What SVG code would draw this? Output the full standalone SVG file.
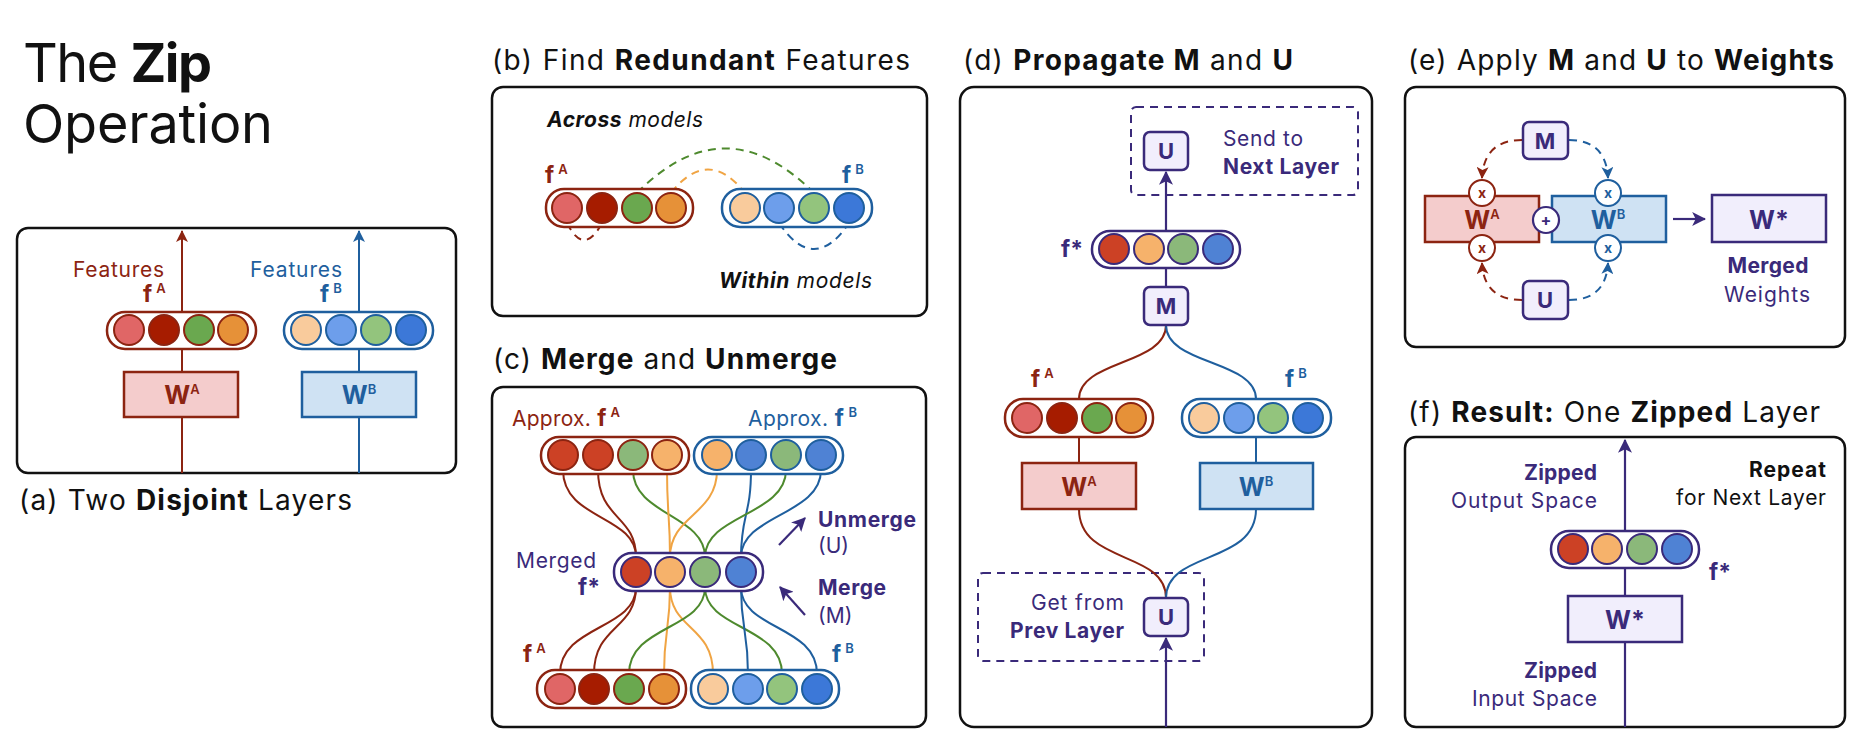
<svg xmlns="http://www.w3.org/2000/svg" width="1869" height="747" viewBox="0 0 1869 747">
<defs>
<style>
text{font-family:Inter,"Liberation Sans",sans-serif;}
.ttl{font-size:54px;fill:#111;}
.pt{font-size:28px;fill:#111;}
.b{font-weight:700;}
.lbl{font-size:21px;}
.red{fill:#8c2411;}
.blu{fill:#1f5f9e;}
.pur{fill:#3a2a7a;}
.blk{fill:#111;}
.f{font-size:23px;font-weight:700;}
.sup{font-size:13px;font-weight:600;}
.wt{font-size:25px;font-weight:700;}
.panel{fill:#fff;stroke:#111;stroke-width:2.5;}
.pA{fill:#fff;stroke:#8c2411;stroke-width:2.5;}
.pB{fill:#fff;stroke:#1f5f9e;stroke-width:2.5;}
.pM{fill:#fff;stroke:#3a2a7a;stroke-width:2.5;}
.cA{stroke:#8c2411;stroke-width:2;}
.cB{stroke:#1f5f9e;stroke-width:2;}
.cM{stroke:#3a2a7a;stroke-width:2;}
.wA{fill:#f4cccc;stroke:#8c2411;stroke-width:2.5;}
.wB{fill:#cfe2f3;stroke:#1f5f9e;stroke-width:2.5;}
.wS{fill:#f1eefc;stroke:#3a2a7a;stroke-width:2.5;}
.op{fill:#f1eefc;stroke:#3a2a7a;stroke-width:2.5;}
.dbox{fill:none;stroke:#3a2a7a;stroke-width:2;stroke-dasharray:8 6;}
.lr{fill:none;stroke:#8c2411;stroke-width:2;}
.lb{fill:none;stroke:#1f5f9e;stroke-width:2;}
.lp{fill:none;stroke:#3a2a7a;stroke-width:2.2;}
.lg{fill:none;stroke:#4e8a2e;stroke-width:2;}
.lo{fill:none;stroke:#f0a443;stroke-width:2;}
.dash{stroke-dasharray:8 6;}
</style>
<marker id="arR" viewBox="0 0 12 12" refX="11" refY="6" markerWidth="12" markerHeight="12" markerUnits="userSpaceOnUse" orient="auto"><path d="M0,0 L12,6 L0,12 L3,6 Z" fill="#8c2411"/></marker>
<marker id="arB" viewBox="0 0 12 12" refX="11" refY="6" markerWidth="12" markerHeight="12" markerUnits="userSpaceOnUse" orient="auto"><path d="M0,0 L12,6 L0,12 L3,6 Z" fill="#1f5f9e"/></marker>
<marker id="arP" viewBox="0 0 12 12" refX="11" refY="6" markerWidth="14" markerHeight="14" markerUnits="userSpaceOnUse" orient="auto"><path d="M0,0 L12,6 L0,12 L3,6 Z" fill="#3a2a7a"/></marker>
</defs>
<rect width="1869" height="747" fill="#fff"/>

<!-- Title -->
<g id="title">
<text class="ttl" x="23" y="82" textLength="189" lengthAdjust="spacing">The <tspan class="b">Zip</tspan></text>
<text class="ttl" x="23" y="143" textLength="250" lengthAdjust="spacing">Operation</text>
</g>

<!-- Panel a -->
<g id="panel-a">
<rect class="panel" x="17" y="228" width="439" height="245" rx="11"/>
<text class="pt" x="19" y="510" textLength="333" lengthAdjust="spacing">(a) Two <tspan class="b">Disjoint</tspan> Layers</text>
</g>
<g id="a-connectors">
<line class="lr" x1="182" y1="473" x2="182" y2="231" marker-end="url(#arR)"/>
<line class="lb" x1="359" y1="473" x2="359" y2="231" marker-end="url(#arB)"/>
</g>
<g id="a-featA">
<text class="lbl red" x="164" y="277" text-anchor="end" textLength="91" lengthAdjust="spacing">Features</text>
<text class="f red" x="143" y="302">f<tspan class="sup" dx="4" dy="-9">A</tspan></text>
<rect class="pA" x="107" y="312" width="149" height="37" rx="18"/>
<circle class="cA" cx="129" cy="330" r="15" fill="#e06666"/>
<circle class="cA" cx="164" cy="330" r="15" fill="#a61c00"/>
<circle class="cA" cx="199" cy="330" r="15" fill="#6aa84f"/>
<circle class="cA" cx="233" cy="330" r="15" fill="#e69138"/>
</g>
<g id="a-featB">
<text class="lbl blu" x="342" y="277" text-anchor="end" textLength="92" lengthAdjust="spacing">Features</text>
<text class="f blu" x="320" y="302">f<tspan class="sup" dx="4" dy="-9">B</tspan></text>
<rect class="pB" x="284" y="312" width="149" height="37" rx="18"/>
<circle class="cB" cx="306" cy="330" r="15" fill="#f9cb9c"/>
<circle class="cB" cx="341" cy="330" r="15" fill="#6d9eeb"/>
<circle class="cB" cx="376" cy="330" r="15" fill="#93c47d"/>
<circle class="cB" cx="411" cy="330" r="15" fill="#3c78d8"/>
</g>
<g id="a-WA"><rect class="wA" x="124" y="372" width="114" height="45"/><text class="wt red" x="182" y="404" text-anchor="middle">W<tspan class="sup" dy="-10">A</tspan></text></g>
<g id="a-WB"><rect class="wB" x="302" y="372" width="114" height="45"/><text class="wt blu" x="359" y="404" text-anchor="middle">W<tspan class="sup" dy="-10">B</tspan></text></g>

<!-- Panel b -->
<g id="panel-b">
<text class="pt" x="492" y="70" textLength="418" lengthAdjust="spacing">(b) Find <tspan class="b">Redundant</tspan> Features</text>
<rect class="panel" x="492" y="87" width="435" height="229" rx="11"/>
<text class="lbl blk" x="547" y="127" font-style="italic" textLength="156" lengthAdjust="spacing"><tspan class="b">Across</tspan> models</text>
<text class="lbl blk" x="719" y="288" font-style="italic" textLength="153" lengthAdjust="spacing"><tspan class="b">Within</tspan> models</text>
</g>
<g id="b-connectors">
<path class="lg dash" d="M637,193 Q725,104 814,193" stroke="#3d6a22"/>
<path class="lo dash" d="M671,193 Q708,146 745,193"/>
<path class="lr dash" d="M567,223 Q584,257 602,223"/>
<path class="lb dash" d="M779,223 Q814,275 849,223"/>
</g>
<g id="b-featA">
<text class="f red" x="545" y="183">f<tspan class="sup" dx="4" dy="-9">A</tspan></text>
<rect class="pA" x="546" y="189" width="147" height="38" rx="18" fill="none"/>
<circle class="cA" cx="567" cy="208" r="15" fill="#e06666"/>
<circle class="cA" cx="602" cy="208" r="15" fill="#a61c00"/>
<circle class="cA" cx="637" cy="208" r="15" fill="#6aa84f"/>
<circle class="cA" cx="671" cy="208" r="15" fill="#e69138"/>
</g>
<g id="b-featB">
<text class="f blu" x="842" y="183">f<tspan class="sup" dx="4" dy="-9">B</tspan></text>
<rect class="pB" x="722" y="189" width="150" height="38" rx="18"/>
<circle class="cB" cx="745" cy="208" r="15" fill="#f9cb9c"/>
<circle class="cB" cx="779" cy="208" r="15" fill="#6d9eeb"/>
<circle class="cB" cx="814" cy="208" r="15" fill="#93c47d"/>
<circle class="cB" cx="849" cy="208" r="15" fill="#3c78d8"/>
</g>

<!-- Panel c -->
<g id="panel-c">
<text class="pt" x="493" y="369" textLength="344" lengthAdjust="spacing">(c) <tspan class="b">Merge</tspan> and <tspan class="b">Unmerge</tspan></text>
<rect class="panel" x="492" y="387" width="434" height="340" rx="11"/>
<text class="lbl pur" x="596" y="568" text-anchor="end" textLength="80" lengthAdjust="spacing">Merged</text>
<text class="f pur" x="578" y="595">f*</text>
<text class="lbl pur b" x="818" y="527" textLength="98" lengthAdjust="spacing">Unmerge</text>
<text class="lbl pur" x="818" y="553">(U)</text>
<text class="lbl pur b" x="818" y="595" textLength="68" lengthAdjust="spacing">Merge</text>
<text class="lbl pur" x="818" y="623">(M)</text>
</g>
<g id="c-connectors">
<path class="lr" d="M563,470 C563,520 636,515 636,557"/>
<path class="lr" d="M598,470 C598,520 636,515 636,557"/>
<path class="lg" d="M633,470 C633,515 705,515 705,557"/>
<path class="lo" d="M667,470 C667,515 670,515 670,557"/>
<path class="lo" d="M717,470 C717,515 670,515 670,557"/>
<path class="lb" d="M751,470 C751,515 741,515 741,557"/>
<path class="lg" d="M786,470 C786,515 705,515 705,557"/>
<path class="lb" d="M821,470 C821,515 741,515 741,557"/>
<path class="lr" d="M636,587 C636,630 560,625 560,674"/>
<path class="lr" d="M636,587 C636,630 594,625 594,674"/>
<path class="lo" d="M670,587 C670,630 664,630 664,674"/>
<path class="lo" d="M670,587 C670,630 713,625 713,674"/>
<path class="lg" d="M705,587 C705,630 629,625 629,674"/>
<path class="lg" d="M705,587 C705,630 782,625 782,674"/>
<path class="lb" d="M741,587 C741,630 748,630 748,674"/>
<path class="lb" d="M741,587 C741,630 817,625 817,674"/>
<line class="lp" x1="779" y1="545" x2="805" y2="518" marker-end="url(#arP)"/>
<line class="lp" x1="805" y1="615" x2="780" y2="587" marker-end="url(#arP)"/>
</g>
<g id="c-approxA">
<text class="lbl red" x="512" y="426" textLength="108" lengthAdjust="spacing">Approx. <tspan class="f">f</tspan><tspan class="sup" dx="4" dy="-9">A</tspan></text>
<rect class="pA" x="541" y="437" width="148" height="37" rx="18" fill="none"/>
<circle class="cA" cx="563" cy="455" r="15" fill="#cc4125"/>
<circle class="cA" cx="598" cy="455" r="15" fill="#cc4125"/>
<circle class="cA" cx="633" cy="455" r="15" fill="#8bb87a"/>
<circle class="cA" cx="667" cy="455" r="15" fill="#f6b26b"/>
</g>
<g id="c-approxB">
<text class="lbl blu" x="748" y="426" textLength="109" lengthAdjust="spacing">Approx. <tspan class="f">f</tspan><tspan class="sup" dx="4" dy="-9">B</tspan></text>
<rect class="pB" x="694" y="437" width="149" height="37" rx="18" fill="none"/>
<circle class="cB" cx="717" cy="455" r="15" fill="#f6b26b"/>
<circle class="cB" cx="751" cy="455" r="15" fill="#4f82d4"/>
<circle class="cB" cx="786" cy="455" r="15" fill="#8bb87a"/>
<circle class="cB" cx="821" cy="455" r="15" fill="#4f82d4"/>
</g>
<g id="c-merged">
<rect class="pM" x="614" y="553" width="149" height="38" rx="18" fill="none"/>
<circle class="cM" cx="636" cy="572" r="15" fill="#cc4125"/>
<circle class="cM" cx="670" cy="572" r="15" fill="#f6b26b"/>
<circle class="cM" cx="705" cy="572" r="15" fill="#8bb87a"/>
<circle class="cM" cx="741" cy="572" r="15" fill="#4f82d4"/>
</g>
<g id="c-featA">
<text class="f red" x="523" y="662">f<tspan class="sup" dx="4" dy="-9">A</tspan></text>
<rect class="pA" x="537" y="670" width="149" height="38" rx="18" fill="none"/>
<circle class="cA" cx="560" cy="689" r="15" fill="#e06666"/>
<circle class="cA" cx="594" cy="689" r="15" fill="#a61c00"/>
<circle class="cA" cx="629" cy="689" r="15" fill="#6aa84f"/>
<circle class="cA" cx="664" cy="689" r="15" fill="#e69138"/>
</g>
<g id="c-featB">
<text class="f blu" x="832" y="662">f<tspan class="sup" dx="4" dy="-9">B</tspan></text>
<rect class="pB" x="691" y="670" width="148" height="38" rx="18" fill="none"/>
<circle class="cB" cx="713" cy="689" r="15" fill="#f9cb9c"/>
<circle class="cB" cx="748" cy="689" r="15" fill="#6d9eeb"/>
<circle class="cB" cx="782" cy="689" r="15" fill="#93c47d"/>
<circle class="cB" cx="817" cy="689" r="15" fill="#3c78d8"/>
</g>

<!-- Panel d -->
<g id="panel-d">
<text class="pt" x="963" y="70" textLength="330" lengthAdjust="spacing">(d) <tspan class="b">Propagate M</tspan> and <tspan class="b">U</tspan></text>
<rect class="panel" x="960" y="87" width="412" height="640" rx="14"/>
<rect class="dbox" x="1131" y="107" width="227" height="88" rx="5"/>
<text class="lbl pur" x="1223" y="146" textLength="80" lengthAdjust="spacing">Send to</text>
<text class="lbl pur b" x="1223" y="174" textLength="116" lengthAdjust="spacing">Next Layer</text>
<rect class="dbox" x="978" y="573" width="226" height="88" rx="5"/>
<text class="lbl pur" x="1124" y="610" text-anchor="end" textLength="93" lengthAdjust="spacing">Get from</text>
<text class="lbl pur b" x="1124" y="638" text-anchor="end" textLength="114" lengthAdjust="spacing">Prev Layer</text>
</g>
<g id="d-connectors">
<line class="lp" x1="1166" y1="231" x2="1166" y2="172" marker-end="url(#arP)"/>
<line class="lp" x1="1166" y1="268" x2="1166" y2="287"/>
<path class="lr" d="M1166,325 C1166,365 1079,360 1079,399"/>
<path class="lb" d="M1166,325 C1166,365 1256,360 1256,399"/>
<line class="lr" x1="1079" y1="437" x2="1079" y2="463"/>
<line class="lb" x1="1256" y1="437" x2="1256" y2="463"/>
<path class="lr" d="M1079,509 C1079,565 1166,550 1166,598"/>
<path class="lb" d="M1256,509 C1256,565 1166,550 1166,598"/>
<line class="lp" x1="1166" y1="727" x2="1166" y2="638" marker-end="url(#arP)"/>
</g>
<g id="d-Utop"><rect class="op" x="1144" y="132" width="44" height="38" rx="6"/><text class="pur b" font-size="22" x="1166" y="159" text-anchor="middle">U</text></g>
<g id="d-fstar">
<text class="f pur" x="1061" y="257">f*</text>
<rect class="pM" x="1092" y="231" width="148" height="37" rx="18"/>
<circle class="cM" cx="1114" cy="249" r="15" fill="#cc4125"/>
<circle class="cM" cx="1149" cy="249" r="15" fill="#f6b26b"/>
<circle class="cM" cx="1183" cy="249" r="15" fill="#8bb87a"/>
<circle class="cM" cx="1218" cy="249" r="15" fill="#4f82d4"/>
</g>
<g id="d-M"><rect class="op" x="1144" y="287" width="44" height="38" rx="6"/><text class="pur b" font-size="22" x="1166" y="314" text-anchor="middle">M</text></g>
<g id="d-featA">
<text class="f red" x="1031" y="387">f<tspan class="sup" dx="4" dy="-9">A</tspan></text>
<rect class="pA" x="1005" y="399" width="148" height="38" rx="18"/>
<circle class="cA" cx="1027" cy="418" r="15" fill="#e06666"/>
<circle class="cA" cx="1062" cy="418" r="15" fill="#a61c00"/>
<circle class="cA" cx="1097" cy="418" r="15" fill="#6aa84f"/>
<circle class="cA" cx="1131" cy="418" r="15" fill="#e69138"/>
</g>
<g id="d-featB">
<text class="f blu" x="1285" y="387">f<tspan class="sup" dx="4" dy="-9">B</tspan></text>
<rect class="pB" x="1182" y="399" width="149" height="38" rx="18"/>
<circle class="cB" cx="1204" cy="418" r="15" fill="#f9cb9c"/>
<circle class="cB" cx="1239" cy="418" r="15" fill="#6d9eeb"/>
<circle class="cB" cx="1273" cy="418" r="15" fill="#93c47d"/>
<circle class="cB" cx="1308" cy="418" r="15" fill="#3c78d8"/>
</g>
<g id="d-WA"><rect class="wA" x="1022" y="463" width="114" height="46"/><text class="wt red" x="1079" y="496" text-anchor="middle">W<tspan class="sup" dy="-10">A</tspan></text></g>
<g id="d-WB"><rect class="wB" x="1200" y="463" width="113" height="46"/><text class="wt blu" x="1256" y="496" text-anchor="middle">W<tspan class="sup" dy="-10">B</tspan></text></g>
<g id="d-Ubot"><rect class="op" x="1144" y="598" width="44" height="38" rx="6"/><text class="pur b" font-size="22" x="1166" y="625" text-anchor="middle">U</text></g>

<!-- Panel e -->
<g id="panel-e">
<text class="pt" x="1408" y="70" textLength="426" lengthAdjust="spacing">(e) Apply <tspan class="b">M</tspan> and <tspan class="b">U</tspan> to <tspan class="b">Weights</tspan></text>
<rect class="panel" x="1405" y="87" width="440" height="260" rx="11"/>
<text class="lbl pur b" x="1768" y="273" text-anchor="middle" textLength="81" lengthAdjust="spacing">Merged</text>
<text class="lbl pur" x="1767" y="302" text-anchor="middle" textLength="86" lengthAdjust="spacing">Weights</text>
</g>
<g id="e-connectors">
<path class="lr dash" d="M1522,140 Q1484,140 1482,178" marker-end="url(#arR)"/>
<path class="lb dash" d="M1569,140 Q1606,140 1608,178" marker-end="url(#arB)"/>
<path class="lr dash" d="M1522,300 Q1484,300 1482,263" marker-end="url(#arR)"/>
<path class="lb dash" d="M1569,300 Q1606,300 1608,263" marker-end="url(#arB)"/>
<line class="lp" x1="1673" y1="219" x2="1705" y2="219" marker-end="url(#arP)"/>
</g>
<g id="e-M"><rect class="op" x="1523" y="122" width="45" height="37" rx="6"/><text class="pur b" font-size="22" x="1545" y="149" text-anchor="middle">M</text></g>
<g id="e-U"><rect class="op" x="1523" y="281" width="45" height="38" rx="6"/><text class="pur b" font-size="22" x="1545" y="308" text-anchor="middle">U</text></g>
<g id="e-WA"><rect class="wA" x="1425" y="196" width="114" height="46"/><text class="wt red" x="1482" y="229" text-anchor="middle">W<tspan class="sup" dy="-10">A</tspan></text></g>
<g id="e-WB"><rect class="wB" x="1552" y="196" width="114" height="46"/><text class="wt blu" x="1608" y="229" text-anchor="middle">W<tspan class="sup" dy="-10">B</tspan></text></g>
<g id="e-x1"><circle cx="1482" cy="193" r="13" fill="#fff" stroke="#8c2411" stroke-width="2"/><text class="red b" font-size="14" x="1482" y="198" text-anchor="middle">x</text></g>
<g id="e-x2"><circle cx="1482" cy="248" r="13" fill="#fff" stroke="#8c2411" stroke-width="2"/><text class="red b" font-size="14" x="1482" y="253" text-anchor="middle">x</text></g>
<g id="e-x3"><circle cx="1608" cy="193" r="13" fill="#fff" stroke="#1f5f9e" stroke-width="2"/><text class="blu b" font-size="14" x="1608" y="198" text-anchor="middle">x</text></g>
<g id="e-x4"><circle cx="1608" cy="248" r="13" fill="#fff" stroke="#1f5f9e" stroke-width="2"/><text class="blu b" font-size="14" x="1608" y="253" text-anchor="middle">x</text></g>
<g id="e-plus"><circle cx="1546" cy="220" r="13" fill="#fff" stroke="#3a2a7a" stroke-width="2.2"/><text class="pur b" font-size="16" x="1546" y="226" text-anchor="middle">+</text></g>
<g id="e-Wstar"><rect class="wS" x="1712" y="195" width="114" height="47"/><text class="wt pur" x="1769" y="229" text-anchor="middle">W*</text></g>

<!-- Panel f -->
<g id="panel-f">
<text class="pt" x="1408" y="422" textLength="412" lengthAdjust="spacing">(f) <tspan class="b">Result:</tspan> One <tspan class="b">Zipped</tspan> Layer</text>
<rect class="panel" x="1405" y="437" width="440" height="290" rx="11"/>
<text class="lbl pur b" x="1597" y="480" text-anchor="end" textLength="73" lengthAdjust="spacing">Zipped</text>
<text class="lbl pur" x="1597" y="508" text-anchor="end" textLength="146" lengthAdjust="spacing">Output Space</text>
<text class="lbl blk b" x="1826" y="477" text-anchor="end" textLength="77" lengthAdjust="spacing">Repeat</text>
<text class="lbl blk" x="1826" y="505" text-anchor="end" textLength="150" lengthAdjust="spacing">for Next Layer</text>
<text class="lbl pur b" x="1597" y="678" text-anchor="end" textLength="73" lengthAdjust="spacing">Zipped</text>
<text class="lbl pur" x="1597" y="706" text-anchor="end" textLength="125" lengthAdjust="spacing">Input Space</text>
</g>
<g id="f-connectors">
<line class="lp" x1="1625" y1="727" x2="1625" y2="440" marker-end="url(#arP)"/>
</g>
<g id="f-fstar">
<text class="f pur" x="1709" y="580">f*</text>
<rect class="pM" x="1551" y="531" width="148" height="37" rx="18"/>
<circle class="cM" cx="1573" cy="549" r="15" fill="#cc4125"/>
<circle class="cM" cx="1607" cy="549" r="15" fill="#f6b26b"/>
<circle class="cM" cx="1642" cy="549" r="15" fill="#8bb87a"/>
<circle class="cM" cx="1677" cy="549" r="15" fill="#4f82d4"/>
</g>
<g id="f-Wstar"><rect class="wS" x="1568" y="596" width="114" height="46"/><text class="wt pur" x="1625" y="629" text-anchor="middle">W*</text></g>
</svg>
